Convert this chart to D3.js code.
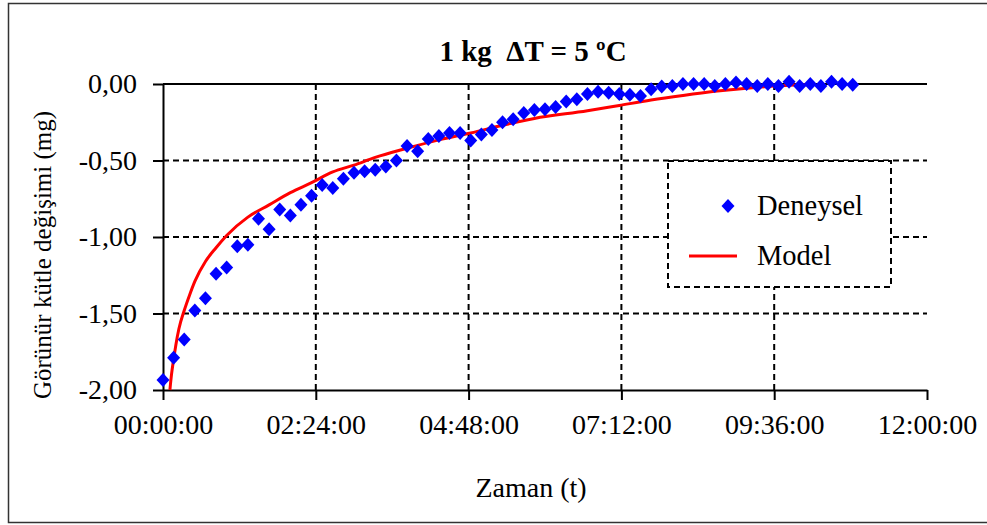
<!DOCTYPE html>
<html>
<head>
<meta charset="utf-8">
<script src="https://cdn.jsdelivr.net/npm/d3@7"></script>
<style>
  html, body { margin: 0; padding: 0; background: #fff; }
  svg { display: block; }
  text { font-family: "Liberation Serif", "Times New Roman", serif; fill: #000; }
</style>
</head>
<body>
<svg id="chart" width="987" height="525"></svg>
<script>
// ---- data ----
const chartTitle = "1 kg  ΔT = 5 ºC";
const xTitle = "Zaman (t)";
const yTitle = "Görünür kütle değişimi (mg)";
const seriesNames = ["Deneysel", "Model"];

// x tick values in minutes and their labels
const xTickMinutes = [0, 144, 288, 432, 576, 720];
const xTickLabels = ["00:00:00", "02:24:00", "04:48:00", "07:12:00", "09:36:00", "12:00:00"];
const yTickValues = [0, -0.5, -1.0, -1.5, -2.0];
const yTickLabels = ["0,00", "-0,50", "-1,00", "-1,50", "-2,00"];

// Deneysel (experimental): time in minutes, value in mg
const expTime = [0, 10, 20, 30, 40, 50, 60, 70, 80, 90,
  100, 110, 120, 130, 140, 150, 160, 170, 180, 190,
  200, 210, 220, 230, 240, 250, 260, 270, 280, 290,
  300, 310, 320, 330, 340, 350, 360, 370, 380, 390,
  400, 410, 420, 430, 440, 450, 460, 470, 480, 490,
  500, 510, 520, 530, 540, 550, 560, 570, 580, 590,
  600, 610, 620, 630, 640, 650];
const expValue = [-1.935, -1.79, -1.67, -1.48, -1.40, -1.24, -1.20, -1.06, -1.05, -0.88,
  -0.95, -0.82, -0.86, -0.79, -0.73, -0.66, -0.68, -0.62, -0.58, -0.57,
  -0.56, -0.54, -0.50, -0.405, -0.44, -0.36, -0.34, -0.32, -0.32, -0.37,
  -0.33, -0.30, -0.25, -0.23, -0.19, -0.17, -0.165, -0.15, -0.115, -0.10,
  -0.065, -0.05, -0.057, -0.065, -0.07, -0.078, -0.035, -0.017, -0.013, 0.0,
  0.0, 0.0, -0.013, 0.0, 0.01, 0.0, -0.013, 0.0, -0.013, 0.015,
  -0.013, 0.0, -0.013, 0.015, 0.0, -0.005];

// Model: time in minutes, value in mg
const modelTime = [6.5, 8, 10, 12, 15, 20, 25, 30, 40, 50, 60, 80, 100, 120, 140, 160, 180, 200,
  230, 260, 290, 320, 350, 400, 430, 460, 490, 520, 550, 580, 615];
const modelValue = [-2.00, -1.90, -1.80, -1.71, -1.60, -1.48, -1.38, -1.29, -1.16, -1.07, -0.99,
  -0.87, -0.79, -0.71, -0.645, -0.575, -0.53, -0.48, -0.42, -0.365, -0.32, -0.27, -0.225,
  -0.175, -0.14, -0.105, -0.075, -0.048, -0.027, -0.012, -0.004];

// ---- drawing ----
const svg = d3.select("#chart");
const x = d3.scaleLinear().domain([0, 720]).range([163, 927]);
const y = d3.scaleLinear().domain([-2, 0]).range([390, 84]);

// outer frame
svg.append("rect")
  .attr("x", 8.5).attr("y", 3.5).attr("width", 990).attr("height", 519)
  .attr("fill", "none").attr("stroke", "#333").attr("stroke-width", 1.5);

// horizontal gridlines
svg.append("g").selectAll("line")
  .data(yTickValues.filter(v => v !== -2))
  .join("line")
  .attr("x1", x(0)).attr("x2", x(720))
  .attr("y1", d => y(d)).attr("y2", d => y(d))
  .attr("stroke", "#000").attr("stroke-width", 2)
  .attr("stroke-dasharray", d => d === 0 ? null : "6,4");

// vertical gridlines
svg.append("g").selectAll("line")
  .data(xTickMinutes.filter(v => v !== 0 && v !== 720))
  .join("line")
  .attr("x1", d => x(d)).attr("x2", d => x(d))
  .attr("y1", y(0)).attr("y2", y(-2))
  .attr("stroke", "#000").attr("stroke-width", 2)
  .attr("stroke-dasharray", "6,4");

// x axis
const xAxis = d3.axisBottom(x)
  .tickValues(xTickMinutes)
  .tickFormat((d, i) => xTickLabels[i])
  .tickSizeInner(10).tickSizeOuter(0).tickPadding(14);
const gx = svg.append("g").attr("transform", `translate(0,${y(-2)})`).call(xAxis);
gx.select(".domain").attr("stroke", "#000").attr("stroke-width", 2);
gx.selectAll(".tick line").attr("stroke", "#000").attr("stroke-width", 2);
gx.selectAll(".tick text").attr("font-size", 28).attr("font-family", "Liberation Serif");

// y axis
const yAxis = d3.axisLeft(y)
  .tickValues(yTickValues)
  .tickFormat((d, i) => yTickLabels[i])
  .tickSizeInner(10).tickSizeOuter(0).tickPadding(16);
const gy = svg.append("g").attr("transform", `translate(${x(0)},0)`).call(yAxis);
gy.select(".domain").attr("stroke", "#000").attr("stroke-width", 2);
gy.selectAll(".tick line").attr("stroke", "#000").attr("stroke-width", 2);
gy.selectAll(".tick text").attr("font-size", 28).attr("font-family", "Liberation Serif");

// model line
const line = d3.line().x(d => x(d[0])).y(d => y(d[1])).curve(d3.curveMonotoneX);
svg.append("path")
  .datum(modelTime.map((t, i) => [t, modelValue[i]]))
  .attr("d", line)
  .attr("fill", "none").attr("stroke", "#ff0000").attr("stroke-width", 3);

// experimental diamonds
const diamond = "M0,-7L6.5,0L0,7L-6.5,0Z";
svg.append("g").selectAll("path")
  .data(expTime.map((t, i) => [t, expValue[i]]))
  .join("path")
  .attr("d", diamond)
  .attr("transform", d => `translate(${x(d[0])},${y(d[1])})`)
  .attr("fill", "#0000ff");

// title
svg.append("text")
  .attr("x", 533).attr("y", 61)
  .attr("text-anchor", "middle")
  .attr("font-size", 29).attr("font-weight", "bold")
  .attr("xml:space", "preserve")
  .style("white-space", "pre")
  .text(chartTitle);

// axis titles
svg.append("text")
  .attr("x", 531).attr("y", 497)
  .attr("text-anchor", "middle")
  .attr("font-size", 28)
  .text(xTitle);

svg.append("text")
  .attr("transform", "translate(51,255) rotate(-90)")
  .attr("text-anchor", "middle")
  .attr("font-size", 25)
  .text(yTitle);

// legend
const lg = svg.append("g");
lg.append("rect")
  .attr("x", 668).attr("y", 161).attr("width", 223).attr("height", 126)
  .attr("fill", "#fff").attr("stroke", "#000").attr("stroke-width", 2)
  .attr("stroke-dasharray", "6,4");
lg.append("path").attr("d", diamond).attr("transform", "translate(728,206)").attr("fill", "#0000ff");
lg.append("text").attr("x", 757).attr("y", 215).attr("font-size", 28.5).text(seriesNames[0]);
lg.append("line").attr("x1", 689).attr("x2", 737).attr("y1", 256).attr("y2", 256)
  .attr("stroke", "#ff0000").attr("stroke-width", 3);
lg.append("text").attr("x", 757).attr("y", 265).attr("font-size", 28.5).text(seriesNames[1]);
</script>
</body>
</html>
